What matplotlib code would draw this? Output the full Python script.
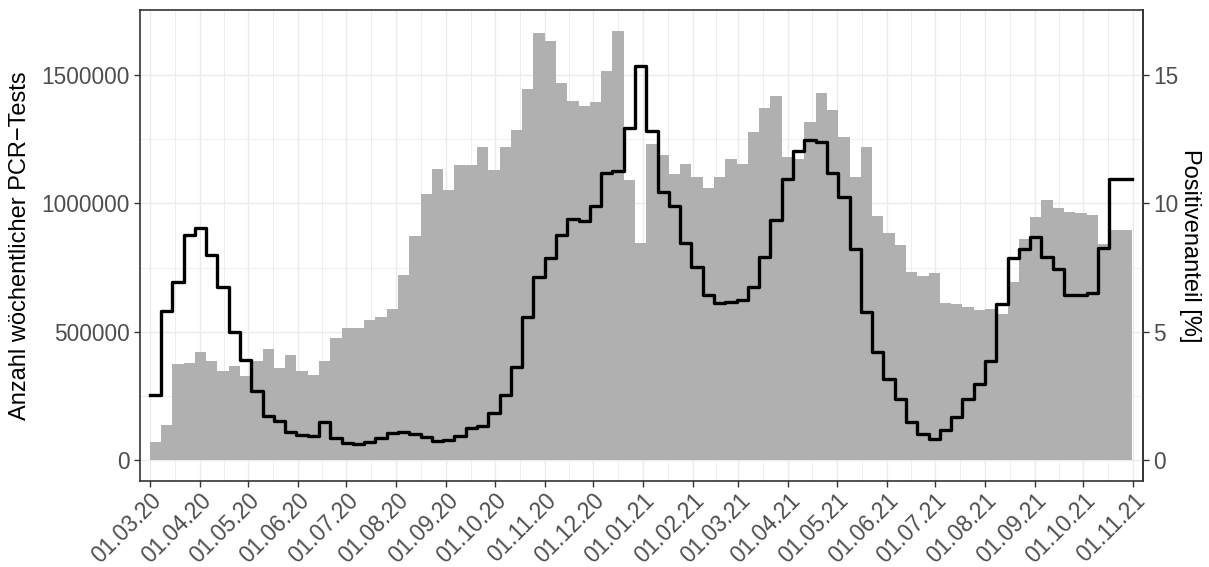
import datetime as dt
import matplotlib
matplotlib.use("Agg")
import matplotlib.pyplot as plt
import matplotlib.dates as mdates
from matplotlib.ticker import FuncFormatter, FixedLocator

plt.rcParams['font.family'] = ['Liberation Sans', 'DejaVu Sans']

# weekly PCR tests (count) and share of positive tests (%), one value per week from KW10/2020
week_start = dt.date(2020, 3, 1)
n_tests = [70000, 134000, 374000, 379000, 421000, 386000, 344000, 366000, 328000, 386000,
           432000, 358000, 409000, 344000, 331000, 386000, 475000, 514000, 514000, 546000,
           558000, 588000, 721000, 873000, 1037000, 1134000, 1052000, 1150000, 1150000, 1220000,
           1130000, 1220000, 1286000, 1446000, 1664000, 1633000, 1469000, 1399000, 1380000, 1395000,
           1516000, 1672000, 1091000, 846000, 1231000, 1189000, 1116000, 1153000, 1103000, 1061000,
           1103000, 1173000, 1153000, 1278000, 1372000, 1419000, 1181000, 1173000, 1317000, 1430000,
           1364000, 1259000, 1103000, 1220000, 951000, 885000, 838000, 733000, 717000, 729000,
           612000, 608000, 596000, 585000, 588000, 569000, 694000, 861000, 947000, 1013000,
           982000, 966000, 963000, 955000, 842000, 896000, 896000]
pos_share = [2.51, 5.82, 6.92, 8.78, 9.03, 7.99, 6.73, 5.0, 3.87, 2.66,
             1.69, 1.49, 1.08, 0.97, 0.92, 1.47, 0.86, 0.65, 0.61, 0.69,
             0.83, 1.04, 1.06, 1.0, 0.87, 0.74, 0.78, 0.94, 1.23, 1.30,
             1.81, 2.51, 3.60, 5.55, 7.12, 7.89, 8.78, 9.38, 9.33, 9.91,
             11.2, 11.27, 12.95, 15.35, 12.82, 10.46, 9.9, 8.44, 7.52, 6.43,
             6.13, 6.17, 6.24, 6.73, 7.92, 9.34, 10.95, 12.05, 12.46, 12.42,
             11.2, 10.26, 8.23, 5.78, 4.2, 3.16, 2.38, 1.45, 1.0, 0.82,
             1.14, 1.66, 2.38, 2.96, 3.86, 6.07, 7.86, 8.21, 8.70, 7.92,
             7.43, 6.43, 6.43, 6.52, 8.25, 10.95, 10.95]

weeks = [week_start + dt.timedelta(days=7 * i) for i in range(len(n_tests))]
scale = 100000  # 1 % on the right axis = 100000 tests on the left axis

fig = plt.figure(figsize=(12.09, 5.67), dpi=100)
ax = fig.add_axes([0.1158, 0.1517, 0.8296, 0.8307])

# bars for the number of tests
ax.bar(weeks, n_tests, width=7, align='edge', color='#B0B0B0', linewidth=0, zorder=2)

# step line for the positive share, last week held to the end
line_x = weeks + [weeks[-1] + dt.timedelta(days=7)]
line_y = [p * scale for p in pos_share] + [pos_share[-1] * scale]
ax.plot(line_x, line_y, drawstyle='steps-post', color='black', linewidth=2.4,
        solid_joinstyle='round', zorder=3)

# axis ranges like ggplot expansion
first, last = dt.date(2020, 3, 1), dt.date(2021, 11, 1)
pad = dt.timedelta(days=6.1)
ax.set_xlim(first - pad, last + pad)
ymax = max(n_tests)
ax.set_ylim(-0.05 * ymax, 1.05 * ymax)

# monthly ticks, minor grid in the middle of the month
months = [dt.date(2020 + (2 + i) // 12, (2 + i) % 12 + 1, 1) for i in range(21)]
ax.xaxis.set_major_locator(FixedLocator(mdates.date2num(months)))
mids = [(mdates.date2num(months[i]) + mdates.date2num(months[i + 1])) / 2 for i in range(len(months) - 1)]
ax.xaxis.set_minor_locator(FixedLocator(mids))
ax.xaxis.set_major_formatter(mdates.DateFormatter('%d.%m.%y'))
for lab in ax.get_xticklabels():
    lab.set_rotation(45)
    lab.set_ha('right')
    lab.set_rotation_mode('anchor')

ax.yaxis.set_major_locator(FixedLocator([0, 500000, 1000000, 1500000]))
ax.yaxis.set_minor_locator(FixedLocator([250000, 750000, 1250000]))
ax.yaxis.set_major_formatter(FuncFormatter(lambda v, _: f"{int(v)}"))

# theme_bw look
ax.set_axisbelow(True)
ax.grid(True, which='major', color='#EBEBEB', linewidth=1.0)
ax.grid(True, which='minor', color='#EBEBEB', linewidth=0.6)
for s in ax.spines.values():
    s.set_color('#333333')
    s.set_linewidth(1.2)
ax.tick_params(which='major', length=4, width=1, color='#333333', labelcolor='#4D4D4D', labelsize=16.3)
ax.tick_params(which='minor', length=0)
ax.tick_params(axis='x', pad=2)

ax.set_ylabel("Anzahl wöchentlicher PCR\u2212Tests", fontsize=17, labelpad=7)

# secondary axis for the positive share
sec = ax.secondary_yaxis('right', functions=(lambda v: v / scale, lambda p: p * scale))
sec.yaxis.set_major_locator(FixedLocator([0, 5, 10, 15]))
sec.tick_params(length=4, width=1, color='#333333', labelcolor='#4D4D4D', labelsize=16.3)
sec.spines['right'].set_color('#333333')
sec.spines['right'].set_linewidth(1.2)
sec.set_ylabel("Positivenanteil [%]", fontsize=17, rotation=-90, labelpad=16)

plt.savefig("out.png", dpi=100)
